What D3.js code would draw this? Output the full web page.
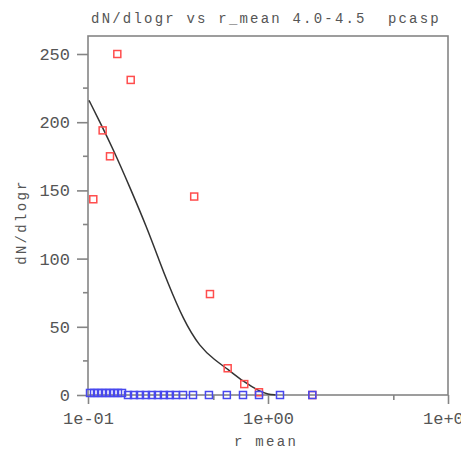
<!DOCTYPE html>
<html>
<head>
<meta charset="utf-8">
<script src="https://cdn.jsdelivr.net/npm/d3@7"></script>
<style>
  body { margin: 0; background: #fff; }
  svg text { font-family: "Liberation Mono", "DejaVu Sans Mono", monospace; fill: #555; white-space: pre; }
</style>
</head>
<body>
<script>
// data
var redR = [0.107, 0.1206, 0.1325, 0.1455, 0.1727, 0.389, 0.476, 0.597, 0.738, 0.891, 1.763];
var redV = [143.5, 194, 175, 250, 231, 145.5, 74, 19.6, 8, 2, 0];

var blueR = [0.1026, 0.108, 0.1136, 0.1196, 0.1259, 0.1325, 0.1395, 0.1468, 0.1545,
  0.1668, 0.1801, 0.1944, 0.2098, 0.2265, 0.2445, 0.264, 0.285, 0.3077,
  0.3372, 0.3831, 0.4698, 0.5907, 0.7263, 0.8913, 1.1659, 1.7629];
var blueV = [1.5, 1.5, 1.5, 1.5, 1.5, 1.5, 1.5, 1.5, 1.5,
  0, 0, 0, 0, 0, 0, 0, 0, 0,
  0, 0, 0, 0, 0, 0, 0, 0];

// fitted curve
var fitR = [0.1013, 0.1166, 0.1382, 0.1712, 0.212, 0.2512, 0.2742, 0.3384, 0.419, 0.5075, 0.597, 0.729, 0.903, 1.0, 1.1];
var fitV = [216, 200, 180, 152, 123, 97, 84, 55, 35, 25.5, 19, 9.8, 2.4, 0.6, 0];

var xTicks = [0.1, 1, 10];
var xMinor = [0.5, 5];
var xTickLabels = ["1e-01", "1e+00", "1e+01"];
var yTicks = [0, 50, 100, 150, 200, 250];
var yMinor = [25, 75, 125, 175, 225];

var titleText = "dN/dlogr vs r_mean 4.0-4.5  pcasp";
var xLabel = "r mean";
var yLabel = "dN/dlogr";

// SVG area
var svgWidth = 461;
var svgHeight = 450;
var margin = { top: 36, right: 13, bottom: 55, left: 88 };
var width = svgWidth - margin.left - margin.right;
var height = svgHeight - margin.top - margin.bottom;

var svg = d3.select("body")
  .append("svg")
  .attr("width", svgWidth)
  .attr("height", svgHeight);

var g = svg.append("g")
  .attr("transform", `translate(${margin.left}, ${margin.top})`);

var x = d3.scaleLog().domain([0.1, 10]).range([0, width]);
var y = d3.scaleLinear().domain([0, 263.2]).range([height, 0]);

var axisColor = "#858585";

// frame
g.append("rect")
  .attr("x", 0).attr("y", 0)
  .attr("width", width).attr("height", height)
  .attr("fill", "none")
  .attr("stroke", axisColor)
  .attr("stroke-width", 1.6);

// y axis
var yAxis = d3.axisLeft(y).tickValues(yTicks).tickSize(11).tickPadding(7).tickFormat(d3.format("d"));
var yG = g.append("g").call(yAxis);
yG.select(".domain").remove();
yG.selectAll("line").attr("stroke", axisColor).attr("stroke-width", 1.6);
yG.selectAll("text").style("font-size", "17px").attr("fill", "#555");

g.append("g").selectAll("line")
  .data(yMinor).enter().append("line")
  .attr("x1", -5).attr("x2", 0)
  .attr("y1", d => y(d)).attr("y2", d => y(d))
  .attr("stroke", axisColor).attr("stroke-width", 1.6);

// x axis
var xAxis = d3.axisBottom(x).tickValues(xTicks).tickSize(9).tickPadding(8)
  .tickFormat((d, i) => xTickLabels[i]);
var xG = g.append("g").attr("transform", `translate(0, ${height})`).call(xAxis);
xG.select(".domain").remove();
xG.selectAll("line").attr("stroke", axisColor).attr("stroke-width", 1.6);
xG.selectAll("text").style("font-size", "17px").attr("fill", "#555");

g.append("g").selectAll("line")
  .data(xMinor).enter().append("line")
  .attr("x1", d => x(d)).attr("x2", d => x(d))
  .attr("y1", height).attr("y2", height + 5)
  .attr("stroke", axisColor).attr("stroke-width", 1.6);

// fit curve
var fit = fitR.map((r, i) => [r, fitV[i]]);
var line = d3.line()
  .x(d => x(d[0]))
  .y(d => y(d[1]))
  .curve(d3.curveBasis);

g.append("path")
  .datum(fit)
  .attr("d", line)
  .attr("fill", "none")
  .attr("stroke", "#333")
  .attr("stroke-width", 1.5);

// markers
var sq = 7;
var red = redR.map((r, i) => [r, redV[i]]);
var blue = blueR.map((r, i) => [r, blueV[i]]);

g.selectAll(".red")
  .data(red).enter().append("rect")
  .attr("class", "red")
  .attr("x", d => x(d[0]) - sq / 2)
  .attr("y", d => y(d[1]) - sq / 2)
  .attr("width", sq).attr("height", sq)
  .attr("fill", "none")
  .attr("stroke", "#ff4d4d")
  .attr("stroke-width", 1.5);

g.selectAll(".blue")
  .data(blue).enter().append("rect")
  .attr("class", "blue")
  .attr("x", d => x(d[0]) - sq / 2)
  .attr("y", d => y(d[1]) - sq / 2)
  .attr("width", sq).attr("height", sq)
  .attr("fill", "none")
  .attr("stroke", "#4848ee")
  .attr("stroke-width", 1.5);

// title and labels
svg.append("text")
  .attr("x", 266).attr("y", 23)
  .attr("text-anchor", "middle")
  .style("font-size", "14px")
  .style("letter-spacing", "2.2px")
  .text(titleText);

svg.append("text")
  .attr("x", 266).attr("y", 446)
  .attr("text-anchor", "middle")
  .style("font-size", "14px")
  .style("letter-spacing", "2.3px")
  .text(xLabel);

svg.append("text")
  .attr("transform", "translate(26, 222) rotate(-90)")
  .attr("text-anchor", "middle")
  .style("font-size", "14px")
  .style("letter-spacing", "2.3px")
  .text(yLabel);
</script>
</body>
</html>
